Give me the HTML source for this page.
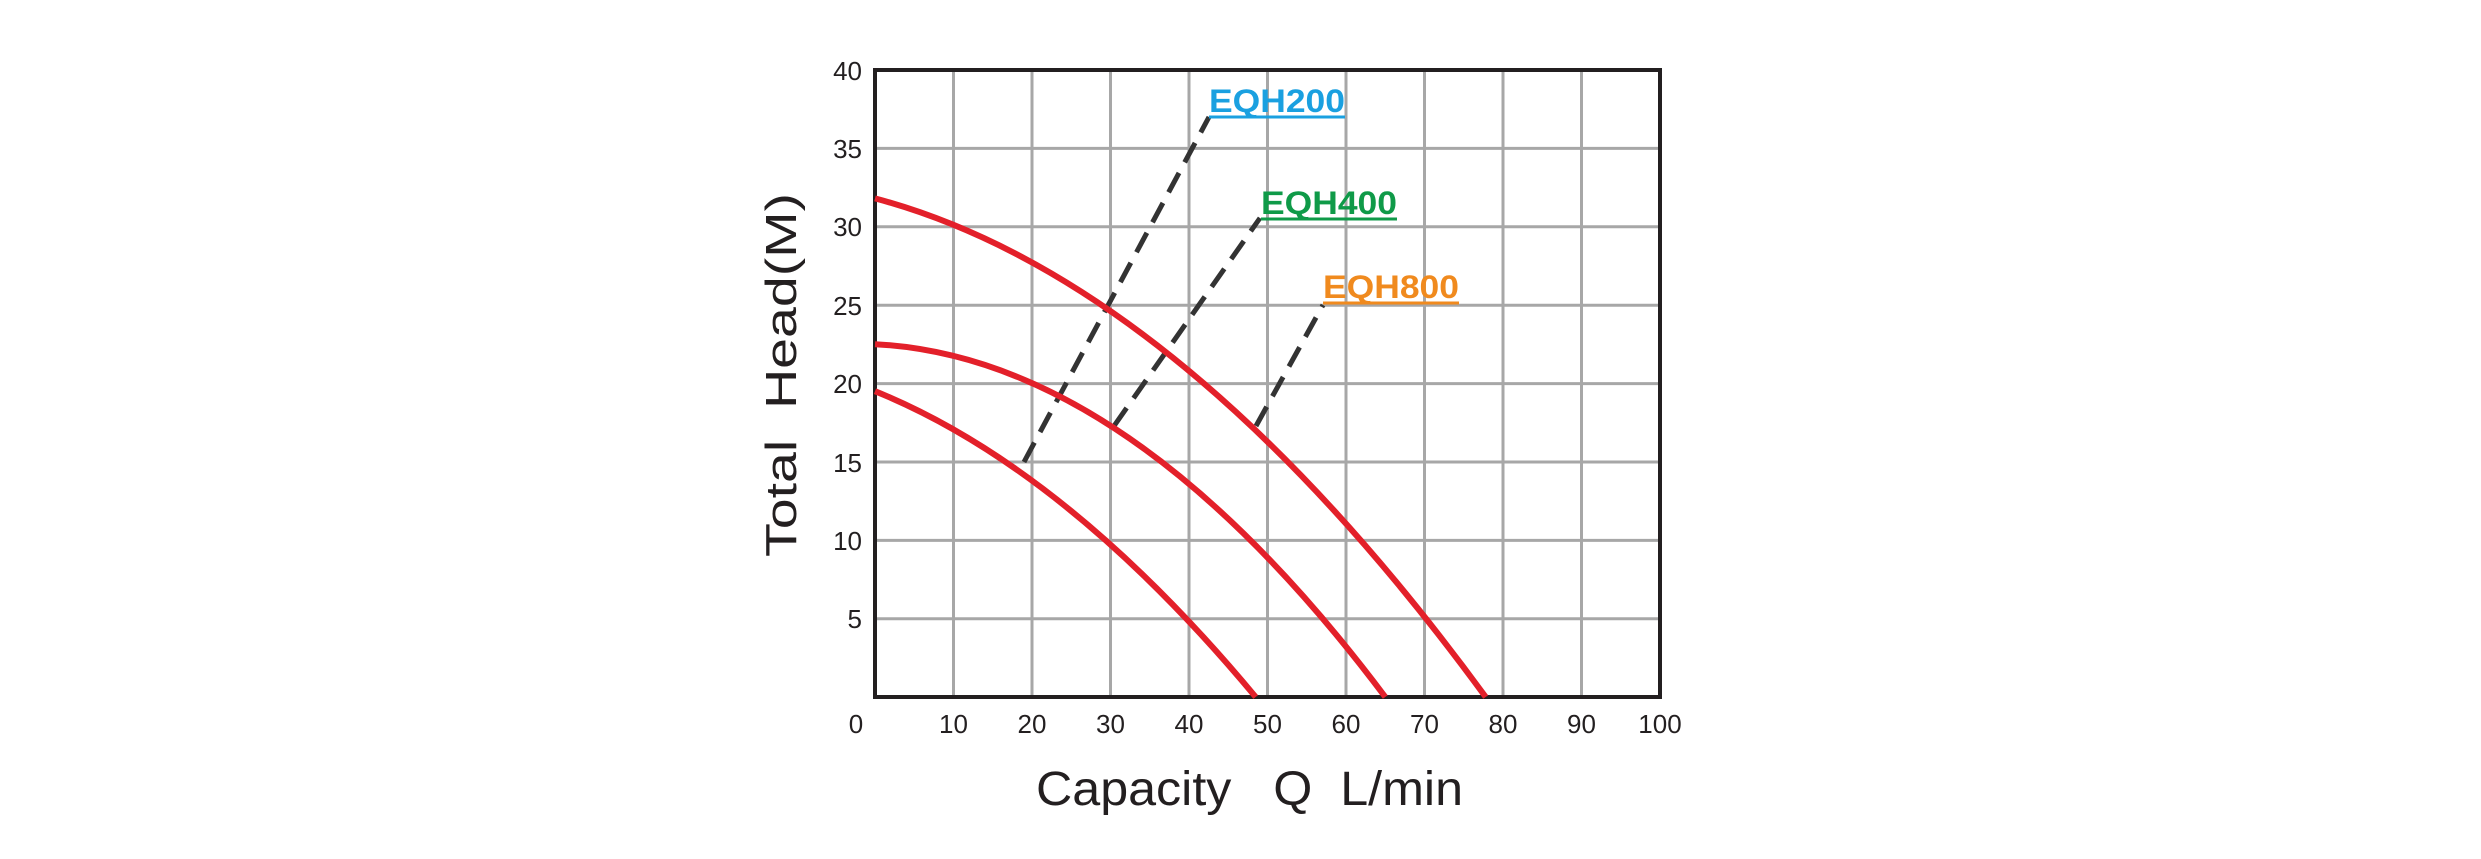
<!DOCTYPE html>
<html><head><meta charset="utf-8"><style>body{margin:0;background:#fff}svg{display:block}</style></head><body>
<svg width="2481" height="859" viewBox="0 0 2481 859" xmlns="http://www.w3.org/2000/svg" font-family="Liberation Sans, sans-serif">
<g stroke="#a7a7a7" stroke-width="3">
<line x1="953.5" y1="70" x2="953.5" y2="697"/><line x1="1032" y1="70" x2="1032" y2="697"/><line x1="1110.5" y1="70" x2="1110.5" y2="697"/><line x1="1189" y1="70" x2="1189" y2="697"/><line x1="1267.5" y1="70" x2="1267.5" y2="697"/><line x1="1346" y1="70" x2="1346" y2="697"/><line x1="1424.5" y1="70" x2="1424.5" y2="697"/><line x1="1503" y1="70" x2="1503" y2="697"/><line x1="1581.5" y1="70" x2="1581.5" y2="697"/>
<line x1="875" y1="148.4" x2="1660" y2="148.4"/><line x1="875" y1="226.8" x2="1660" y2="226.8"/><line x1="875" y1="305.2" x2="1660" y2="305.2"/><line x1="875" y1="383.6" x2="1660" y2="383.6"/><line x1="875" y1="462" x2="1660" y2="462"/><line x1="875" y1="540.4" x2="1660" y2="540.4"/><line x1="875" y1="618.8" x2="1660" y2="618.8"/>
</g>
<rect x="875" y="70" width="785" height="627" fill="none" stroke="#231f20" stroke-width="4"/>
<g stroke="#333" stroke-width="5" stroke-dasharray="22 12" fill="none">
<line x1="1024" y1="462" x2="1209" y2="117"/>
<line x1="1114" y1="426" x2="1260" y2="218"/>
<line x1="1256" y1="426" x2="1323" y2="305"/>
</g>
<g stroke="#e3202a" stroke-width="6" fill="none">
<path d="M875,198.4 Q1180.4,279.8 1485.7,697"/>
<path d="M875,344.2 Q1130.1,357.1 1385.3,697"/>
<path d="M875,391.2 Q1065.4,468.4 1255.7,697"/>
</g>
<g font-size="26" fill="#231f20" text-anchor="end">
<text x="862" y="80">40</text><text x="862" y="158">35</text><text x="862" y="236">30</text><text x="862" y="315">25</text><text x="862" y="393">20</text><text x="862" y="472">15</text><text x="862" y="550">10</text><text x="862" y="628">5</text>
</g>
<g font-size="26" fill="#231f20" text-anchor="middle">
<text x="856" y="733">0</text><text x="953.5" y="733">10</text><text x="1032" y="733">20</text><text x="1110.5" y="733">30</text><text x="1189" y="733">40</text><text x="1267.5" y="733">50</text><text x="1346" y="733">60</text><text x="1424.5" y="733">70</text><text x="1503" y="733">80</text><text x="1581.5" y="733">90</text><text x="1660" y="733">100</text>
</g>
<text transform="translate(796,557) rotate(-90)" font-size="44" fill="#231f20" textLength="364" lengthAdjust="spacingAndGlyphs" xml:space="preserve">Total  Head(M)</text>
<text x="1036" y="805" font-size="48" fill="#231f20" textLength="427" lengthAdjust="spacingAndGlyphs" xml:space="preserve">Capacity   Q  L/min</text>
<g font-size="32" font-weight="bold">
<text x="1209" y="112" fill="#1aa0e0" textLength="136" lengthAdjust="spacingAndGlyphs">EQH200</text>
<text x="1261" y="214" fill="#0f9a48" textLength="136" lengthAdjust="spacingAndGlyphs">EQH400</text>
<text x="1323" y="298" fill="#f08a1e" textLength="136" lengthAdjust="spacingAndGlyphs">EQH800</text>
</g>
<g stroke-width="3"><line x1="1209" y1="117" x2="1345" y2="117" stroke="#1aa0e0"/><line x1="1261" y1="219" x2="1397" y2="219" stroke="#0f9a48"/><line x1="1323" y1="303" x2="1459" y2="303" stroke="#f08a1e"/></g>
</svg>
</body></html>
